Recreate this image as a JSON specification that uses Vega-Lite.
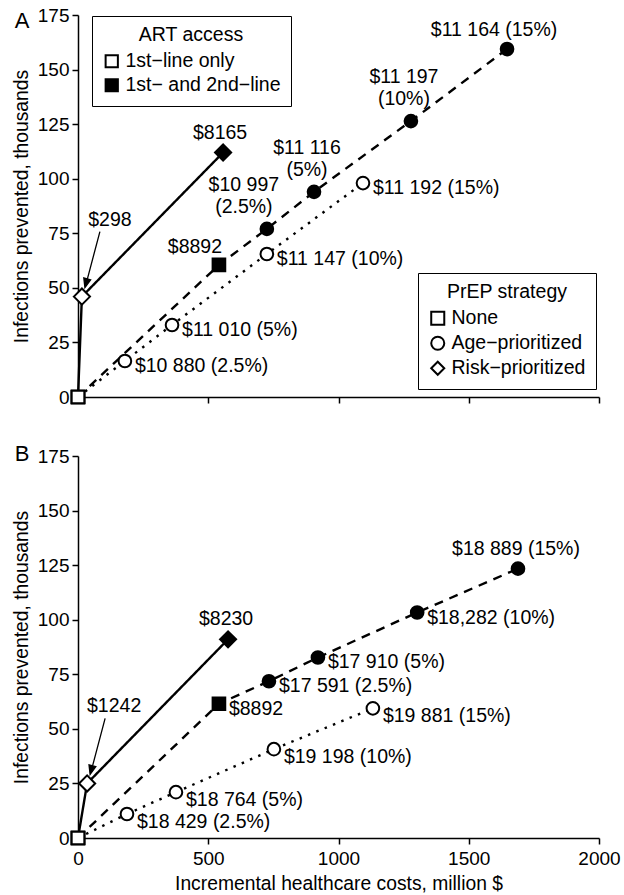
{
  "$schema": "https://vega.github.io/schema/vega-lite/v6.json",
  "autosize": {"type": "pad"},
  "padding": {"left": 12, "top": 6, "right": 4, "bottom": 4},
  "config": {
    "font": "Liberation Sans",
    "view": {"stroke": null},
    "axis": {"domainColor": "black", "domainWidth": 1.5, "tickColor": "black", "tickWidth": 1.5, "tickSize": 6, "labelColor": "black", "labelFontSize": 19, "labelPadding": 3, "titleColor": "black", "titleFontSize": 19.3, "titleFontWeight": "normal", "grid": false, "labelFlush": false, "labelOverlap": false},
    "axisY": {"titlePadding": 6},
    "axisX": {"titlePadding": 6, "labelPadding": 5},
    "legend": {"labelFontSize": 19.5, "titleFontSize": 19.5, "titleFontWeight": "normal", "labelColor": "black", "titleColor": "black", "strokeColor": "black", "padding": 10, "titleAnchor": "middle", "titleAlign": "center", "titlePadding": 6, "rowPadding": 3, "labelLimit": 300, "symbolStrokeColor": "black", "symbolStrokeWidth": 2, "labelOffset": 4, "symbolOffset": 0},
    "text": {"fontSize": 19.5, "baseline": "middle", "lineBreak": "\n", "lineHeight": 22, "color": "black"}
  },
  "datasets": {
    "pts": [
      {"panel": "A", "cost": 0, "inf": 0, "prep": "None", "art": "1st−line only", "line": "solid"},
      {"panel": "A", "cost": 0, "inf": 0, "prep": "None", "art": "1st−line only", "line": "dashed"},
      {"panel": "A", "cost": 0, "inf": 0, "prep": "None", "art": "1st−line only", "line": "dotted"},
      {"panel": "A", "cost": 15, "inf": 46, "prep": "Risk−prioritized", "art": "1st−line only", "line": "solid", "label": "$298", "pos": "arrow"},
      {"panel": "A", "cost": 557, "inf": 112, "prep": "Risk−prioritized", "art": "1st− and 2nd−line", "line": "solid", "label": "$8165", "pos": "above"},
      {"panel": "A", "cost": 541, "inf": 60.5, "prep": "None", "art": "1st− and 2nd−line", "line": "dashed", "label": "$8892", "pos": "upleft"},
      {"panel": "A", "cost": 725, "inf": 77, "prep": "Age−prioritized", "art": "1st− and 2nd−line", "line": "dashed", "label": "$10 997\n(2.5%)", "pos": "above2L"},
      {"panel": "A", "cost": 906, "inf": 94, "prep": "Age−prioritized", "art": "1st− and 2nd−line", "line": "dashed", "label": "$11 116\n(5%)", "pos": "above2"},
      {"panel": "A", "cost": 1278, "inf": 126.4, "prep": "Age−prioritized", "art": "1st− and 2nd−line", "line": "dashed", "label": "$11 197\n(10%)", "pos": "above2"},
      {"panel": "A", "cost": 1647, "inf": 159.4, "prep": "Age−prioritized", "art": "1st− and 2nd−line", "line": "dashed", "label": "$11 164 (15%)", "pos": "aboveleft"},
      {"panel": "A", "cost": 180, "inf": 16.5, "prep": "Age−prioritized", "art": "1st−line only", "line": "dotted", "label": "$10 880 (2.5%)", "pos": "right"},
      {"panel": "A", "cost": 361, "inf": 33, "prep": "Age−prioritized", "art": "1st−line only", "line": "dotted", "label": "$11 010 (5%)", "pos": "right"},
      {"panel": "A", "cost": 725, "inf": 65.5, "prep": "Age−prioritized", "art": "1st−line only", "line": "dotted", "label": "$11 147 (10%)", "pos": "right"},
      {"panel": "A", "cost": 1094, "inf": 98, "prep": "Age−prioritized", "art": "1st−line only", "line": "dotted", "label": "$11 192 (15%)", "pos": "right"},
      {"panel": "B", "cost": 0, "inf": 0, "prep": "None", "art": "1st−line only", "line": "solid"},
      {"panel": "B", "cost": 0, "inf": 0, "prep": "None", "art": "1st−line only", "line": "dashed"},
      {"panel": "B", "cost": 0, "inf": 0, "prep": "None", "art": "1st−line only", "line": "dotted"},
      {"panel": "B", "cost": 35, "inf": 25, "prep": "Risk−prioritized", "art": "1st−line only", "line": "solid", "label": "$1242", "pos": "arrow"},
      {"panel": "B", "cost": 576, "inf": 91, "prep": "Risk−prioritized", "art": "1st− and 2nd−line", "line": "solid", "label": "$8230", "pos": "above"},
      {"panel": "B", "cost": 541, "inf": 61.5, "prep": "None", "art": "1st− and 2nd−line", "line": "dashed", "label": "$8892", "pos": "right"},
      {"panel": "B", "cost": 733, "inf": 71.8, "prep": "Age−prioritized", "art": "1st− and 2nd−line", "line": "dashed", "label": "$17 591 (2.5%)", "pos": "right"},
      {"panel": "B", "cost": 921, "inf": 82.7, "prep": "Age−prioritized", "art": "1st− and 2nd−line", "line": "dashed", "label": "$17 910 (5%)", "pos": "right"},
      {"panel": "B", "cost": 1302, "inf": 103.3, "prep": "Age−prioritized", "art": "1st− and 2nd−line", "line": "dashed", "label": "$18,282 (10%)", "pos": "right"},
      {"panel": "B", "cost": 1689, "inf": 123.4, "prep": "Age−prioritized", "art": "1st− and 2nd−line", "line": "dashed", "label": "$18 889 (15%)", "pos": "above"},
      {"panel": "B", "cost": 188, "inf": 11, "prep": "Age−prioritized", "art": "1st−line only", "line": "dotted", "label": "$18 429 (2.5%)", "pos": "rightlow"},
      {"panel": "B", "cost": 376, "inf": 21, "prep": "Age−prioritized", "art": "1st−line only", "line": "dotted", "label": "$18 764 (5%)", "pos": "rightlow"},
      {"panel": "B", "cost": 752, "inf": 40.7, "prep": "Age−prioritized", "art": "1st−line only", "line": "dotted", "label": "$19 198 (10%)", "pos": "rightlow"},
      {"panel": "B", "cost": 1132, "inf": 59.4, "prep": "Age−prioritized", "art": "1st−line only", "line": "dotted", "label": "$19 881 (15%)", "pos": "rightlow"}
    ]
  },
  "spacing": 35,
  "resolve": {
    "scale": {"x": "independent", "y": "independent", "fill": "shared", "shape": "shared", "strokeDash": "shared"},
    "axis": {"x": "independent", "y": "independent"},
    "legend": {"fill": "shared", "shape": "shared"}
  },
  "vconcat": [
    {
      "width": 521, "height": 382,
      "data": {"name": "pts"},
      "transform": [{"filter": "datum.panel === 'A'"}],
      "encoding": {
        "x": {"field": "cost", "type": "quantitative", "scale": {"domain": [0, 2000], "nice": false}, "axis": {"values": [0, 500, 1000, 1500, 2000], "format": "d", "labels": false, "title": null}},
        "y": {"field": "inf", "type": "quantitative", "scale": {"domain": [0, 175], "nice": false}, "axis": {"values": [0, 25, 50, 75, 100, 125, 150, 175], "title": "Infections prevented, thousands"}}
      },
      "layer": [
        {"mark": {"type": "line", "color": "black", "strokeWidth": 2.4, "strokeCap": "butt"},
         "encoding": {"strokeDash": {"field": "line", "type": "nominal", "scale": {"domain": ["solid", "dashed", "dotted"], "range": [[1, 0], [9, 7], [2.5, 6.5]]}, "legend": null}}},
        {"mark": {"type": "point", "filled": true, "opacity": 1, "stroke": "black", "strokeWidth": 2},
         "encoding": {
           "fill": {"field": "art", "type": "nominal", "scale": {"domain": ["1st−line only", "1st− and 2nd−line"], "range": ["white", "black"]}, "legend": {"title": "ART access", "orient": "none", "legendX": 14, "legendY": 1, "symbolType": "square", "symbolSize": 150}},
           "shape": {"field": "prep", "type": "nominal", "scale": {"domain": ["None", "Age−prioritized", "Risk−prioritized"], "range": ["square", "circle", "diamond"]}, "legend": {"title": "PrEP strategy", "orient": "none", "legendX": 340, "legendY": 258, "symbolFillColor": "white", "symbolSize": 170}},
           "size": {"condition": {"test": "datum.prep === 'Risk−prioritized'", "value": 260}, "value": 160}
         }},
        {"transform": [{"filter": "datum.pos === 'arrow'"}],
         "mark": {"type": "point", "shape": "M18,-65L4.5,-14M3,-9L8.7,-16.8L1.9,-18.6Z", "size": 4, "filled": true, "opacity": 1, "fill": "black", "stroke": "black", "strokeWidth": 1.3}},
        {"transform": [{"filter": "datum.pos === 'arrow'"}], "mark": {"type": "text", "align": "center", "dx": 28, "dy": -77}, "encoding": {"text": {"field": "label"}}},
        {"transform": [{"filter": "datum.pos === 'right'"}], "mark": {"type": "text", "align": "left", "dx": 10, "dy": 5}, "encoding": {"text": {"field": "label"}}},
        {"transform": [{"filter": "datum.pos === 'above'"}], "mark": {"type": "text", "align": "center", "dx": -3, "dy": -20}, "encoding": {"text": {"field": "label"}}},
        {"transform": [{"filter": "datum.pos === 'aboveleft'"}], "mark": {"type": "text", "align": "center", "dx": -13, "dy": -19}, "encoding": {"text": {"field": "label"}}},
        {"transform": [{"filter": "datum.pos === 'above2'"}], "mark": {"type": "text", "align": "center", "dx": -7, "dy": -44}, "encoding": {"text": {"field": "label"}}},
        {"transform": [{"filter": "datum.pos === 'above2L'"}], "mark": {"type": "text", "align": "center", "dx": -23, "dy": -44}, "encoding": {"text": {"field": "label"}}},
        {"transform": [{"filter": "datum.pos === 'upleft'"}], "mark": {"type": "text", "align": "center", "dx": -24, "dy": -18}, "encoding": {"text": {"field": "label"}}},
        {"transform": [{"filter": "datum.line === 'solid' && datum.cost === 0"}],
         "mark": {"type": "text", "align": "center", "fontSize": 22, "dx": -56, "dy": 6},
         "encoding": {"x": {"datum": 0}, "y": {"datum": 175}, "text": {"value": "A"}}}
      ]
    },
    {
      "width": 521, "height": 382,
      "data": {"name": "pts"},
      "transform": [{"filter": "datum.panel === 'B'"}],
      "encoding": {
        "x": {"field": "cost", "type": "quantitative", "scale": {"domain": [0, 2000], "nice": false}, "axis": {"values": [0, 500, 1000, 1500, 2000], "format": "d", "title": "Incremental healthcare costs, million $"}},
        "y": {"field": "inf", "type": "quantitative", "scale": {"domain": [0, 175], "nice": false}, "axis": {"values": [0, 25, 50, 75, 100, 125, 150, 175], "title": "Infections prevented, thousands"}}
      },
      "layer": [
        {"mark": {"type": "line", "color": "black", "strokeWidth": 2.4, "strokeCap": "butt"},
         "encoding": {"strokeDash": {"field": "line", "type": "nominal", "scale": {"domain": ["solid", "dashed", "dotted"], "range": [[1, 0], [9, 7], [2.5, 6.5]]}, "legend": null}}},
        {"mark": {"type": "point", "filled": true, "opacity": 1, "stroke": "black", "strokeWidth": 2},
         "encoding": {
           "fill": {"field": "art", "type": "nominal", "scale": {"domain": ["1st−line only", "1st− and 2nd−line"], "range": ["white", "black"]}, "legend": {"title": "ART access", "orient": "none", "legendX": 14, "legendY": 1, "symbolType": "square", "symbolSize": 150}},
           "shape": {"field": "prep", "type": "nominal", "scale": {"domain": ["None", "Age−prioritized", "Risk−prioritized"], "range": ["square", "circle", "diamond"]}, "legend": {"title": "PrEP strategy", "orient": "none", "legendX": 340, "legendY": 258, "symbolFillColor": "white", "symbolSize": 170}},
           "size": {"condition": {"test": "datum.prep === 'Risk−prioritized'", "value": 260}, "value": 160}
         }},
        {"transform": [{"filter": "datum.pos === 'arrow'"}],
         "mark": {"type": "point", "shape": "M18,-65L4.5,-14M3,-9L8.7,-16.8L1.9,-18.6Z", "size": 4, "filled": true, "opacity": 1, "fill": "black", "stroke": "black", "strokeWidth": 1.3}},
        {"transform": [{"filter": "datum.pos === 'arrow'"}], "mark": {"type": "text", "align": "center", "dx": 27, "dy": -77}, "encoding": {"text": {"field": "label"}}},
        {"transform": [{"filter": "datum.pos === 'right'"}], "mark": {"type": "text", "align": "left", "dx": 10, "dy": 5}, "encoding": {"text": {"field": "label"}}},
        {"transform": [{"filter": "datum.pos === 'rightlow'"}], "mark": {"type": "text", "align": "left", "dx": 10, "dy": 8}, "encoding": {"text": {"field": "label"}}},
        {"transform": [{"filter": "datum.pos === 'above'"}], "mark": {"type": "text", "align": "center", "dx": -2, "dy": -20}, "encoding": {"text": {"field": "label"}}},
        {"transform": [{"filter": "datum.line === 'solid' && datum.cost === 0"}],
         "mark": {"type": "text", "align": "center", "fontSize": 22, "dx": -56, "dy": -2},
         "encoding": {"x": {"datum": 0}, "y": {"datum": 175}, "text": {"value": "B"}}}
      ]
    }
  ]
}
